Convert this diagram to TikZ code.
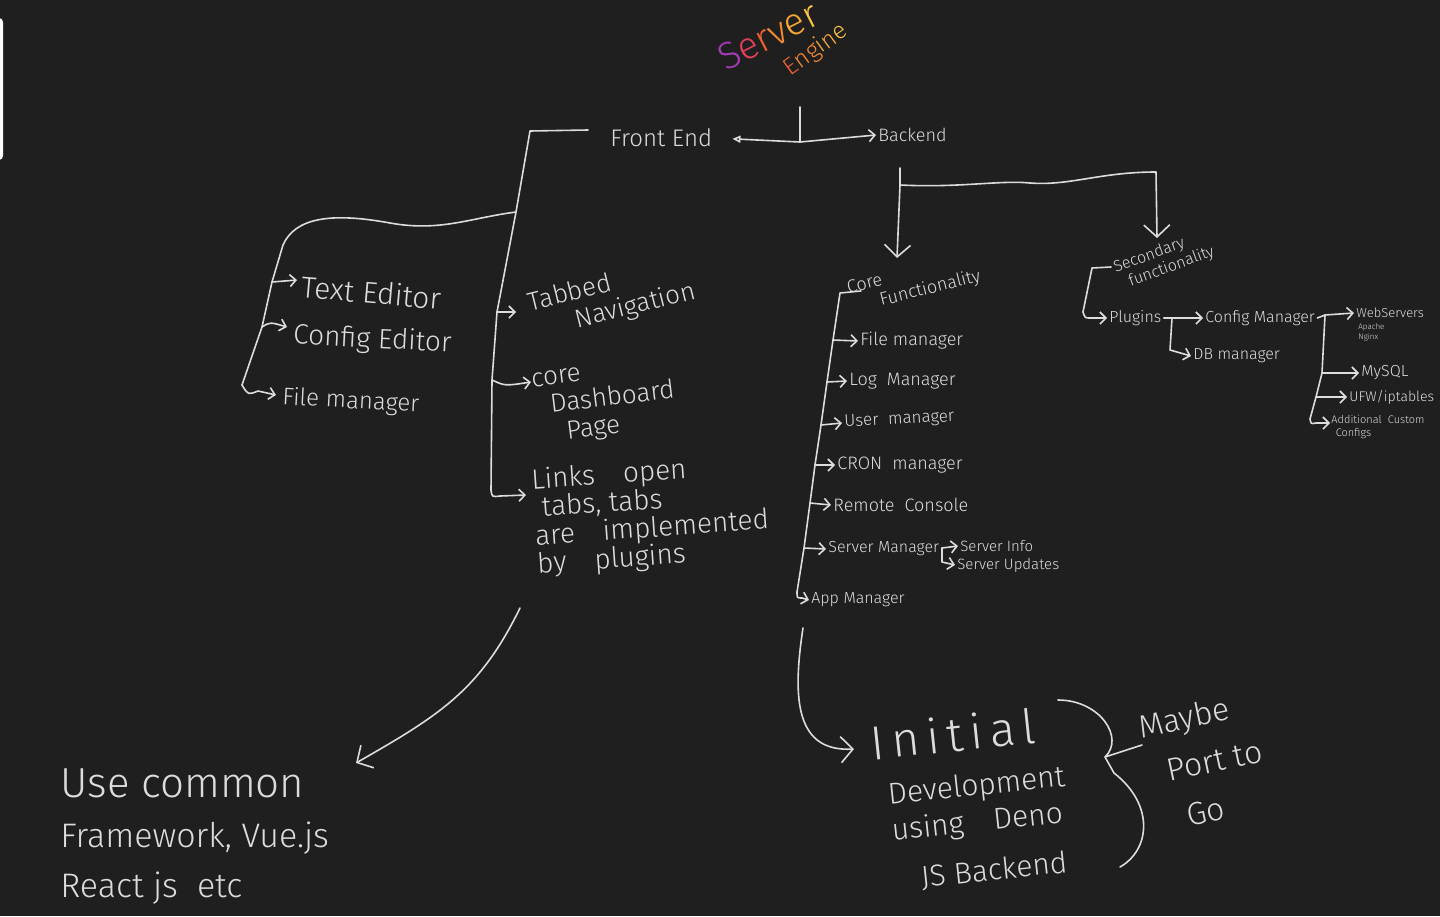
\documentclass[tikz,border=0pt]{standalone}
\usepackage{fontspec}
\setmainfont{Fira Sans Light}
\usetikzlibrary{arrows.meta}
\definecolor{bg}{HTML}{1F1F1F}
\definecolor{ink}{HTML}{DCDCDC}
\definecolor{c1}{HTML}{A33CB4}
\definecolor{c2}{HTML}{E2405A}
\definecolor{c3}{HTML}{F06234}
\definecolor{c4}{HTML}{F58A32}
\definecolor{c5}{HTML}{F8A834}
\definecolor{c6}{HTML}{FBC243}
\newcommand\fsz[2]{\fontsize{#1}{#2}\selectfont}
\begin{document}
\begin{tikzpicture}[x=0.5pt,y=-0.5pt,
  ln/.style={draw=ink,line width=0.8pt,line cap=round,line join=round},
  arr/.style={ln,-{Straight Barb[length=3pt,width=6pt]}},
  barr/.style={ln,-{Straight Barb[length=6pt,width=13pt]}},
  lbl/.style={text=ink,inner sep=1pt,align=left},
  wlbl/.style={lbl,anchor=west}]
\fill[bg] (0,0) rectangle (1440,916);
\useasboundingbox (0,0) rectangle (1440,916);
\fill[white,rounded corners=2pt] (-6,18) rectangle (3,160);

% title
\node[font=\fsz{19}{19},rotate=27,inner sep=0pt] (srv) at (768,36)
  {{\color{c1}S}{\color{c2}e}{\color{c3}r}{\color{c4}v}{\color{c5}e}{\color{c6}r}};
\node[font=\fsz{12}{12},rotate=36,inner sep=0pt] (eng) at (816,50)
  {{\color{c3}E}{\color{c4}n}{\color{c4}g}{\color{c5}i}{\color{c5}n}{\color{c6}e}};

% front / back
\node[wlbl,font=\fsz{12}{14}] (fe) at (608,138) {Front End};
\node[wlbl,font=\fsz{9}{11}] (be) at (876,135) {Backend};
\coordinate (j1) at (800,142);
\coordinate (j1t) at (800,107);
\draw[ln,{Triangle[open,length=4pt,width=3.5pt]}-{Straight Barb[length=3pt,width=6pt]},shorten <=9pt]
  (fe.east) -- (j1) -- (be.west);
\draw[ln] (j1t) -- (j1);

% front end tree
\coordinate (f1) at (530,131);
\coordinate (f2) at (516,212);
\coordinate (f3) at (497,312);
\coordinate (f4) at (492,380);
\coordinate (f5) at (491,490);
\coordinate (t3) at (516,312);
\coordinate (t4) at (531,382);
\coordinate (t5) at (526,495);
\draw[ln] ([xshift=-10pt,yshift=4pt]fe.west) -- (f1) -- (f2) -- (f3) -- (f4) -- (f5);
\draw[arr] (f3) -- (t3);
\draw[arr] (f4) .. controls (505,386) .. (t4);
\draw[arr] (f5) .. controls (492,497) .. (500,496) -- (t5);

\node[lbl,font=\fsz{13}{14},rotate=14] (tab) at (612,298) {Tabbed\\\hspace*{1.6em}Navigation};
\node[lbl,font=\fsz{13}{14},rotate=7] (dash) at (605,402) {core\\\hspace*{0.6em}Dashboard\\\hspace*{1.1em}Page};
\node[lbl,font=\fsz{14}{14},rotate=4,anchor=north west] (links) at (528,466)
  {Links\quad open\\\hspace*{0.3em}tabs,\ tabs\\are\quad implemented\\by\quad plugins};

% left editors
\coordinate (g2) at (272,282);
\coordinate (g3) at (262,327);
\coordinate (g4) at (242,385);
\coordinate (e2) at (297,280);
\coordinate (e3) at (287,327);
\coordinate (e4) at (276,395);
\draw[ln] (f2) .. controls (470,218) and (440,232) .. (390,223)
  .. controls (330,212) and (295,218) .. (283,245) -- (g2) -- (g3) -- (g4);
\draw[arr] (g2) -- (e2);
\draw[arr] (g3) .. controls (270,322) .. (e3);
\draw[arr] (g4) .. controls (248,395) .. (258,391) -- (e4);
\node[wlbl,font=\fsz{15}{16},rotate=-5] (te) at (299,286) {Text Editor};
\node[wlbl,font=\fsz{14}{16},rotate=-3] (ce) at (291,336) {Config Editor};
\node[wlbl,font=\fsz{12}{14},rotate=-3] (fm) at (280,398) {File manager};

% big arrow to frameworks
\coordinate (a1) at (520,608);
\coordinate (a2) at (356,763);
\draw[barr] (a1) .. controls (480,690) and (440,715) .. (a2);
\node[lbl,anchor=north west,font=\fsz{17}{25}] (use) at (58,766)
  {{\fsz{21}{25}Use common}\\Framework,\ Vue.js\\React js\ \ etc};

% backend tree
\coordinate (b1) at (900,168);
\coordinate (b2) at (900,185);
\coordinate (b3) at (897,258);
\coordinate (b4) at (1156,172);
\coordinate (b5) at (1157,238);
\draw[ln] (b1) -- (b2);
\draw[barr] (b2) -- (b3);
\draw[barr] (b2) .. controls (960,188) and (1000,180) .. (1030,183)
  .. controls (1070,186) and (1100,172) .. (b4) -- (b5);

% core functionality
\node[lbl,font=\fsz{9}{10},rotate=14] (cf) at (914,283) {Core\\\hspace*{1.6em}Functionality};
\coordinate (s0) at (861,291);
\coordinate (s1) at (840,293);
\coordinate (s2) at (833,340);
\coordinate (s3) at (827,382);
\coordinate (s4) at (821,425);
\coordinate (s5) at (815,465);
\coordinate (s6) at (810,503);
\coordinate (s7) at (804,548);
\coordinate (s8) at (797,592);
\draw[ln] (s0) -- (s1) -- (s2) -- (s3) -- (s4) -- (s5) -- (s6) -- (s7) -- (s8);
\node[wlbl,font=\fsz{9}{10}] (cfm) at (858,341) {File manager};
\node[wlbl,font=\fsz{9}{10}] (clm) at (847,381) {Log\ \ Manager};
\node[wlbl,font=\fsz{8.5}{10},rotate=3] (cum) at (842,423) {User\ \ manager};
\node[wlbl,font=\fsz{9}{10}] (ccm) at (835,465) {CRON\ \ manager};
\node[wlbl,font=\fsz{9}{10}] (crc) at (831,505) {Remote\ \ Console};
\node[wlbl,font=\fsz{8}{10}] (csm) at (826,549) {Server\ Manager};
\node[wlbl,font=\fsz{8}{10}] (cam) at (809,600) {App\ Manager};
\draw[arr] (s2) -- (cfm.west);
\draw[arr] (s3) -- (clm.west);
\draw[arr] (s4) -- (cum.west);
\draw[arr] (s5) -- (ccm.west);
\draw[arr] (s6) -- (crc.west);
\draw[arr] (s7) -- (csm.west);
\draw[arr] (s8) .. controls (797,598) .. (802,598) -- (cam.west);
\node[wlbl,font=\fsz{7.5}{9}] (sin) at (958,546) {Server Info};
\node[wlbl,font=\fsz{7.5}{9}] (sup) at (955,565) {Server Updates};
\coordinate (sm1) at (942,548);
\coordinate (sm2) at (942,562);
\draw[arr] (csm.east) -- (sm1) -- (sin.west);
\draw[arr] (sm1) -- (sm2) -- (sup.west);

% secondary functionality
\node[lbl,font=\fsz{8}{9},rotate=20] (sf) at (1164,260) {Secondary\\\hspace*{0.6em}functionality};
\coordinate (p0) at (1111,267);
\coordinate (p1) at (1092,268);
\coordinate (p2) at (1083,312);
\draw[ln] (p0) -- (p1) -- (p2);
\node[wlbl,font=\fsz{8}{9}] (plg) at (1107,318) {Plugins};
\node[wlbl,font=\fsz{8}{9}] (cfg) at (1203,318) {Config Manager};
\node[wlbl,font=\fsz{8}{9}] (dbm) at (1191,356) {DB manager};
\draw[arr] (p2) .. controls (1085,318) .. (1090,318) -- (plg.west);
\coordinate (q1) at (1172,318);
\coordinate (q2) at (1170,350);
\draw[arr] (plg.east) -- (cfg.west);
\draw[arr] (q1) -- (q2) -- (dbm.west);

\node[wlbl,font=\fsz{6.5}{8}] (ws) at (1354,313) {WebServers};
\node[lbl,anchor=north west,font=\fsz{4}{5}] (wsx) at (1356,321) {Apache\\Nginx};
\node[wlbl,font=\fsz{8}{9}] (sql) at (1359,373) {MySQL};
\node[wlbl,font=\fsz{7}{8}] (ufw) at (1347,397) {UFW/iptables};
\node[lbl,anchor=north west,font=\fsz{5.5}{6.5}] (add) at (1329,413) {Additional\ \ Custom\\\hspace*{0.4em}Configs};
\coordinate (r1) at (1325,315);
\coordinate (r2) at (1322,373);
\coordinate (r3) at (1316,397);
\coordinate (r4) at (1310,419);
\draw[ln] (r1) -- (r2) -- (r3) -- (r4);
\draw[arr] (cfg.east) -- (r1) -- (ws.west);
\draw[arr] (r2) -- (sql.west);
\draw[arr] (r3) -- (ufw.west);
\draw[arr] (r4) .. controls (1311,424) .. (1316,423) -- (1330,423);

% bottom: initial development
\coordinate (c1) at (803,628);
\coordinate (c2) at (854,749);
\draw[barr] (c1) .. controls (792,700) and (796,752) .. (c2);
\node[lbl,anchor=north west,font=\fsz{15}{19},rotate=6] (init) at (866,722)
  {{\fsz{24}{26}\addfontfeature{LetterSpace=15}Initial}\\[4pt]
   \hspace*{0.4em}Development\\[-1pt]
   \hspace*{0.4em}using\quad Deno\\[6pt]
   \hspace*{1.2em}JS Backend};

% brace
\coordinate (k1) at (1058,700);
\coordinate (k2) at (1105,757);
\coordinate (k3) at (1142,745);
\coordinate (k4) at (1120,867);
\draw[ln] (k1) .. controls (1100,700) and (1125,738) .. (k2) -- (k3);
\draw[ln] (k2) -- (1114,773) .. controls (1155,805) and (1150,850) .. (k4);
\node[lbl,font=\fsz{16}{24},rotate=12] (maybe) at (1205,762) {Maybe\\\hspace*{0.6em}Port\ to\\\hspace*{0.9em}Go};
\end{tikzpicture}
\end{document}
